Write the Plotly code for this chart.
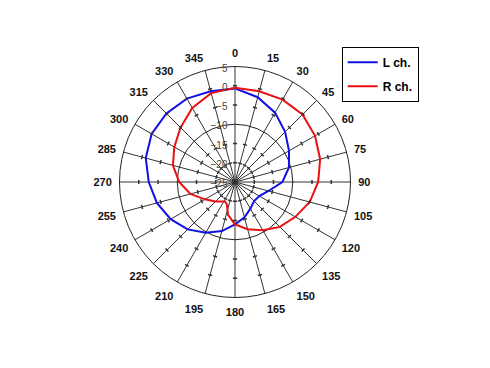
import plotly.graph_objects as go

# ---- data ----
angles = [0, 15, 30, 45, 60, 75, 90, 105, 120, 135, 150, 165, 180,
          195, 210, 225, 240, 255, 270, 285, 300, 315, 330, 345, 360]
l_ch = [-0.7, -2.2, -4.2, -6.6, -8.8, -10.5, -12.7, -16.0, -17.7, -18.0, -17.0, -15.5, -14.0,
        -11.8, -9.8, -7.6, -5.7, -4.0, -2.6, -1.0, 0.0, 0.2, 0.0, -0.6, -0.7]
r_angles = [0, 15, 30, 45, 60, 75, 90, 105, 120, 135, 150, 165, 180,
            192, 200, 207, 225, 240, 255, 270, 285, 300, 315, 330, 345, 360]
r_ch = [-0.5, -0.6, -0.3, -0.2, -1.0, -2.1, -3.4, -4.9, -6.9, -8.5, -10.5, -12.3, -14.0,
        -16.3, -18.8, -19.3, -17.8, -16.0, -13.0, -10.5, -8.3, -6.8, -5.0, -2.8, -1.1, -0.5]
angle_ticks = list(range(0, 360, 15))
angle_labels = [str(a) for a in angle_ticks]
radial_ticks = [-25, -20, -15, -10, -5, 0, 5]
radial_grid = [-10]
spoke_tick_vals = [-20, -15, -5, 0]

# the page body has an 8px margin; lay out in page coordinates and shift
OFF = 8
W, H = 490 - OFF, 368 - OFF
cx, cy, R = 235 - OFF, 182 - OFF, 115.5
dom_x = [(cx - R) / W, (cx + R) / W]
dom_y = [(H - (cy + R)) / H, (H - (cy - R)) / H]

fig = go.Figure()

fig.add_trace(go.Scatterpolar(theta=angles, r=l_ch, mode="lines", name="L ch.",
                              legendgroup="L", line=dict(color="#1010e0", width=2),
                              subplot="polar"))
fig.add_trace(go.Scatterpolar(theta=r_angles, r=r_ch, mode="lines", name="R ch.",
                              legendgroup="R", line=dict(color="#e81010", width=2),
                              subplot="polar"))

# small tick marks along each spoke
tt, tr = [], []
for a in angle_ticks:
    for v in spoke_tick_vals:
        tt.append(a)
        tr.append(v)
fig.add_trace(go.Scatterpolar(theta=tt, r=tr, mode="markers", showlegend=False, hoverinfo="skip",
                              marker=dict(symbol="line-ew", size=3, angle=tt,
                                          line=dict(color="#333", width=1.5)),
                              subplot="polar"))

font_lab = dict(family="Arial, Liberation Sans", size=11, color="#111", weight="bold")

fig.update_layout(
    width=W, height=H,
    margin=dict(l=0, r=0, t=0, b=0),
    paper_bgcolor="white",
    showlegend=True,
    legend=dict(x=(341.7 - OFF) / W, y=1 - (46.7 - OFF) / H, xanchor="left", yanchor="top",
                bordercolor="black", borderwidth=1, bgcolor="white", tracegroupgap=5,
                font=dict(family="Arial, Liberation Sans", size=12, color="black", weight="bold"),
                itemwidth=30),
    polar=dict(
        domain=dict(x=dom_x, y=dom_y),
        bgcolor="white",
        angularaxis=dict(rotation=90, direction="clockwise", tickvals=angle_ticks,
                         ticktext=angle_labels, showgrid=True, gridcolor="#333", gridwidth=1,
                         showline=True, linecolor="#222", linewidth=1,
                         ticks="outside", ticklen=5, tickcolor="rgba(0,0,0,0)",
                         tickfont=font_lab),
        radialaxis=dict(range=[-25, 5], tickvals=radial_grid, showgrid=True, gridcolor="#222",
                        gridwidth=1, showline=False, showticklabels=False, ticks=""),
    ),
    polar2=dict(
        domain=dict(x=dom_x, y=dom_y),
        bgcolor="rgba(0,0,0,0)",
        angularaxis=dict(rotation=90, direction="clockwise", visible=False, showgrid=False),
        radialaxis=dict(range=[-25, 5], tickvals=radial_ticks, angle=90, showgrid=False,
                        showline=False, ticks="", side="counterclockwise",
                        tickfont=dict(family="Arial, Liberation Sans", size=10, color="#444")),
    ),
)
fig.add_trace(go.Scatterpolar(theta=[0], r=[-25], mode="markers", showlegend=False,
                              hoverinfo="skip", marker=dict(size=1, opacity=0),
                              subplot="polar2"))

fig.write_html("out.html")
